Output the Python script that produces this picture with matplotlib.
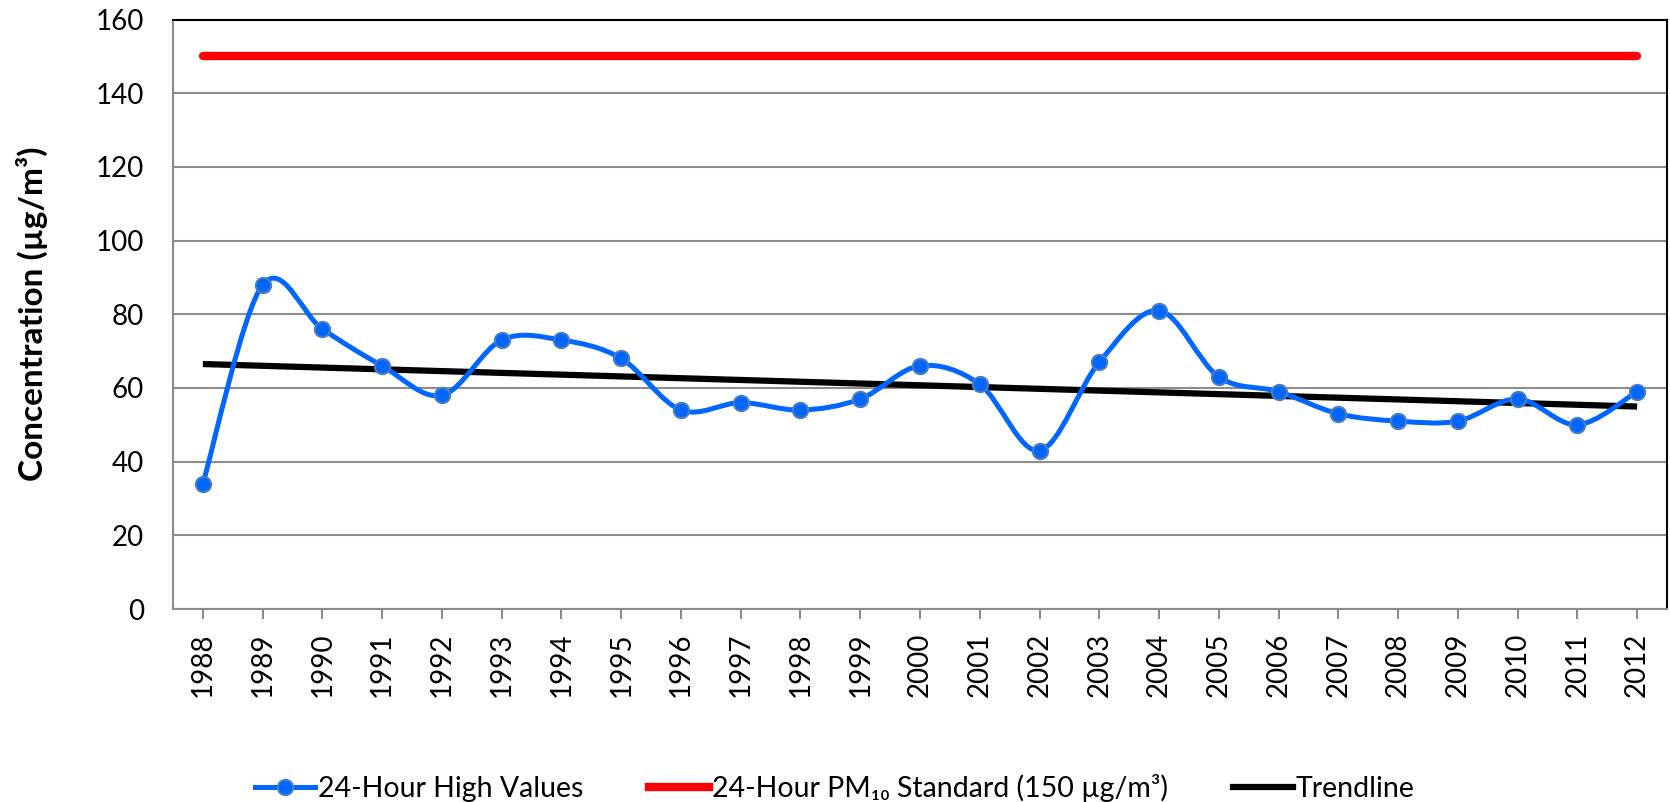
import numpy as np
import matplotlib
matplotlib.use("Agg")
import matplotlib.pyplot as plt
from matplotlib.path import Path
from matplotlib.patches import PathPatch
from matplotlib.lines import Line2D

years = [str(y) for y in range(1988, 2013)]
high_values = [34, 88, 76, 66, 58, 73, 73, 68, 54, 56, 54, 57, 66, 61, 43,
               67, 81, 63, 59, 53, 51, 51, 57, 50, 59]
standard = [150] * len(years)
y_ticks = [0, 20, 40, 60, 80, 100, 120, 140, 160]

FONT = ['Lato', 'DejaVu Sans']
plt.rcParams['font.family'] = FONT

BLUE = '#0066FF'
EDGE = '#4A7EBB'
GRID = '#8C8C8C'

fig = plt.figure(figsize=(16.7, 8.02), dpi=100)
ax = fig.add_axes([173/1670, 1 - 609/802, 1494/1670, 589.5/802])

x = np.arange(len(years), dtype=float)
y = np.array(high_values, dtype=float)

# Excel-style smoothed line (Catmull-Rom Bezier)
verts = [(x[0], y[0])]
codes = [Path.MOVETO]
n = len(x)
for i in range(n - 1):
    p0 = np.array([x[max(i-1, 0)], y[max(i-1, 0)]])
    p1 = np.array([x[i], y[i]])
    p2 = np.array([x[i+1], y[i+1]])
    p3 = np.array([x[min(i+2, n-1)], y[min(i+2, n-1)]])
    c1 = p1 + (p2 - p0) / 6.0
    c2 = p2 - (p3 - p1) / 6.0
    verts += [tuple(c1), tuple(c2), tuple(p2)]
    codes += [Path.CURVE4] * 3

# Standard line
ax.plot(x, standard, color='#FF0000', lw=6, solid_capstyle='round', zorder=3)

# Trendline (linear fit)
coef = np.polyfit(x, y, 1)
ax.plot(x, np.polyval(coef, x), color='black', lw=4.5, solid_capstyle='butt', zorder=3)

# Smoothed series
patch = PathPatch(Path(verts, codes), facecolor='none', edgecolor=BLUE, lw=3.6,
                  capstyle='round', zorder=4)
ax.add_patch(patch)
ax.plot(x, y, linestyle='none', marker='o', ms=11, mfc=BLUE, mec=EDGE, mew=1.5, zorder=5)

ax.set_xlim(-0.5, len(years) - 0.5)
ax.set_ylim(0, 160)
ax.set_yticks(y_ticks)
ax.set_yticklabels([str(t) for t in y_ticks], fontsize=20)
ax.set_xticks(x)
ax.set_xticklabels(years, rotation=90, fontsize=20)
ax.tick_params(axis='y', length=0, pad=21)
ax.tick_params(axis='x', length=7, width=1.5, color=GRID, pad=10)
ax.yaxis.grid(True, color=GRID, lw=1.5)
ax.set_axisbelow(True)
for s in ['left', 'bottom']:
    ax.spines[s].set_color(GRID)
    ax.spines[s].set_linewidth(1.5)
for s in ['top', 'right']:
    ax.spines[s].set_color('black')
    ax.spines[s].set_linewidth(1.5)

ax.set_ylabel('Concentration (µg/m³)', fontsize=24, fontweight='bold')
ax.yaxis.set_label_coords(-0.0835, 0.5)

handles = [
    Line2D([], [], color=BLUE, lw=3.6, marker='o', ms=11, mfc=BLUE, mec=EDGE, mew=1.5),
    Line2D([], [], color='#FF0000', lw=6),
    Line2D([], [], color='black', lw=4.5),
]
labels = ['24-Hour High Values', '24-Hour PM₁₀ Standard (150 µg/m³)', 'Trendline']
fig.legend(handles, labels, loc='center', bbox_to_anchor=(0.5, 1 - 788/802), ncol=3,
           frameon=False, handlelength=2.1, handletextpad=0.1,
           columnspacing=2.3, prop={'family': FONT, 'size': 20.5})

fig.savefig('out.png', dpi=100)
